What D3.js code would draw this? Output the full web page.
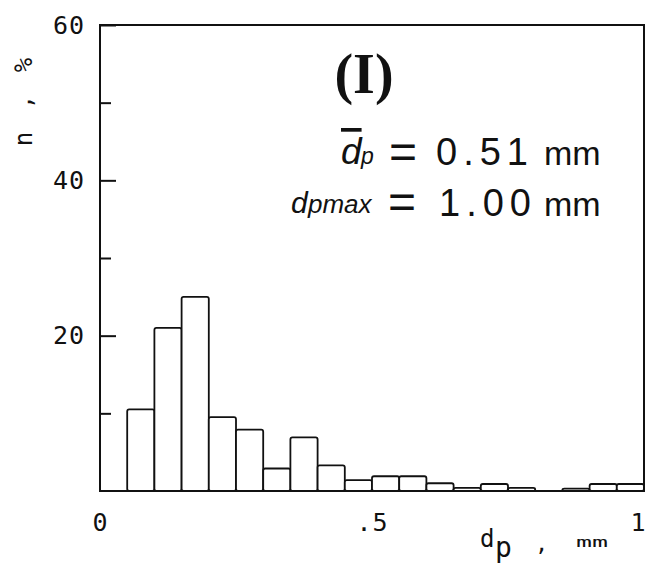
<!DOCTYPE html>
<html><head><meta charset="utf-8">
<script src="https://cdn.jsdelivr.net/npm/d3@7"></script>
<style>
html,body{margin:0;padding:0;background:#fff;}
svg{display:block;}
.tk{font-family:'DejaVu Sans Mono',monospace;font-variant-numeric:slashed-zero;}
</style></head>
<body>
<svg id="chart" width="646" height="568"></svg>
<script>
// ---- data ----
const binStart = [0.00,0.05,0.10,0.15,0.20,0.25,0.30,0.35,0.40,0.45,0.50,0.55,0.60,0.65,0.70,0.75,0.80,0.85,0.90,0.95];
const binWidth = 0.05;
const percent  = [0,10.5,21.0,25.0,9.5,7.9,2.9,6.9,3.3,1.4,1.9,1.9,1.0,0.4,0.9,0.4,0,0.3,0.9,0.9];
const yMajorTicks = [60,40,20];
const yMinorTicks = [50,30,10];
const xTicks = [0,0.5,1];
const xTickLabels = ["0",".5","1"];
const title = "(I)";

// ---- layout ----
const L=100, R=644, T=25, B=491;
const svg = d3.select("#chart");
const x = d3.scaleLinear().domain([0,1]).range([L,R]);
const y = d3.scaleLinear().domain([0,60]).range([B,T]);
const mono = "'DejaVu Sans Mono', monospace";

// bars
svg.append("g").selectAll("rect")
  .data(binStart.map((s,i)=>({s, v:percent[i]})).filter(d=>d.v>0))
  .join("rect")
  .attr("x", d=>x(d.s))
  .attr("y", d=>y(d.v))
  .attr("width", d=>x(d.s+binWidth)-x(d.s))
  .attr("height", d=>y(0)-y(d.v))
  .attr("rx", 2)
  .attr("fill","#fff").attr("stroke","#111").attr("stroke-width",1.8);

// frame
svg.append("rect").attr("x",L).attr("y",T).attr("width",R-L).attr("height",B-T)
  .attr("fill","none").attr("stroke","#111").attr("stroke-width",2);

// y axis major
const gy = svg.append("g").attr("transform",`translate(${L},0)`)
  .call(d3.axisLeft(y).tickValues(yMajorTicks).tickSize(-16).tickPadding(15).tickFormat(d3.format("d")));
gy.select(".domain").remove();
gy.selectAll("line").attr("stroke","#111").attr("stroke-width",2);
gy.selectAll("text").attr("class","tk").attr("font-size",25).attr("letter-spacing",1).attr("fill","#111");
// y axis minor
const gy2 = svg.append("g").attr("transform",`translate(${L},0)`)
  .call(d3.axisLeft(y).tickValues(yMinorTicks).tickSize(-11).tickFormat(""));
gy2.select(".domain").remove();
gy2.selectAll("line").attr("stroke","#111").attr("stroke-width",2);

// x axis labels
const gx = svg.append("g").attr("transform",`translate(0,${B})`)
  .call(d3.axisBottom(x).tickValues(xTicks).tickSize(0).tickPadding(22).tickFormat((d,i)=>xTickLabels[i]));
gx.select(".domain").remove();
gx.selectAll("text").attr("class","tk").attr("font-size",25).attr("letter-spacing",1).attr("fill","#111");
gx.selectAll("text").filter(d=>d===1).attr("text-anchor","end").attr("x",2);

// y label
svg.append("text").attr("transform","translate(32,100) rotate(-90)")
  .attr("text-anchor","middle").attr("font-family",mono).attr("font-size",24)
  .attr("letter-spacing",4).attr("fill","#111").text("n , %");

// x label
const xl = svg.append("text").attr("font-family",mono).attr("fill","#111");
xl.append("tspan").attr("x",480).attr("y",547).attr("font-size",24).text("d");
xl.append("tspan").attr("x",495).attr("y",557).attr("font-size",28).text("p");
xl.append("tspan").attr("x",535).attr("y",551).attr("font-size",22).text(",");
xl.append("tspan").attr("x",576).attr("y",547).attr("font-size",14)
  .attr("textLength",32).attr("lengthAdjust","spacingAndGlyphs").text("mm");

// title
svg.append("text").attr("x",364).attr("y",93).attr("text-anchor","middle")
  .attr("font-family","'Liberation Serif', serif").attr("font-weight","bold")
  .attr("font-size",56).attr("fill","#111").text(title);

// annotations
const sans = "'Liberation Sans', Arial, sans-serif";
const a1 = svg.append("text").attr("font-family",sans).attr("fill","#111");
a1.append("tspan").attr("x",341).attr("y",164).attr("font-size",37).attr("font-style","italic")
  .style("text-decoration","overline").text("d");
a1.append("tspan").attr("x",361).attr("y",164).attr("font-size",23).attr("font-style","italic").text("p");
a1.append("tspan").attr("x",389).attr("y",168).attr("font-size",48).text("=");
a1.append("tspan").attr("x",436).attr("y",165).attr("font-size",38).attr("letter-spacing",6).text("0.51");
a1.append("tspan").attr("x",544).attr("y",165).attr("font-size",34).text("mm");

const a2 = svg.append("text").attr("font-family",sans).attr("fill","#111");
a2.append("tspan").attr("x",291).attr("y",213).attr("font-size",30).attr("font-style","italic").text("d");
a2.append("tspan").attr("x",308).attr("y",213).attr("font-size",26).attr("font-style","italic").text("pmax");
a2.append("tspan").attr("x",388).attr("y",218).attr("font-size",48).text("=");
a2.append("tspan").attr("x",439).attr("y",216).attr("font-size",38).attr("letter-spacing",6).text("1.00");
a2.append("tspan").attr("x",544).attr("y",216).attr("font-size",34).text("mm");
</script>
</body></html>
